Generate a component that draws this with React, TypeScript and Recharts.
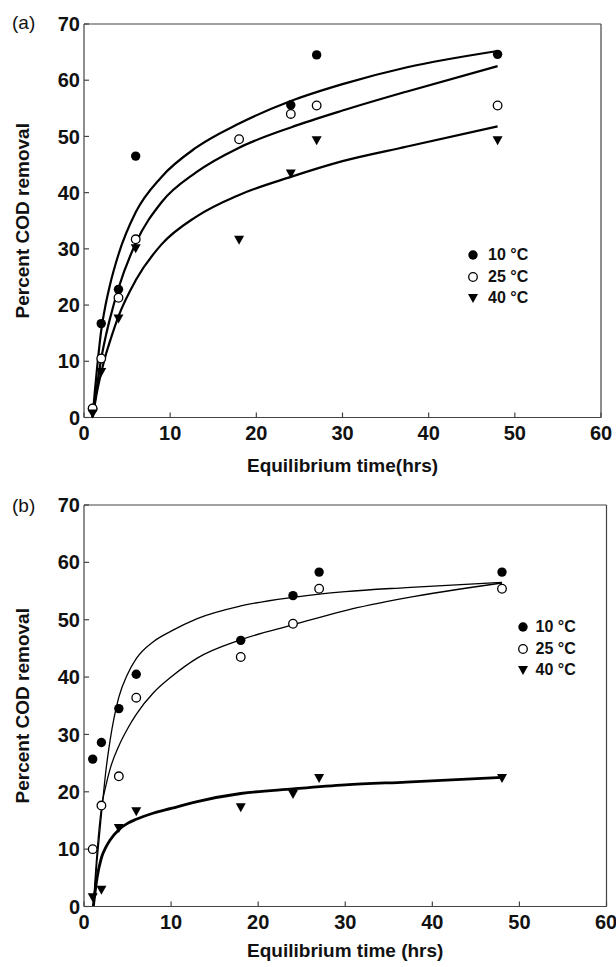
import React from "react";
import { ComposedChart, Line, Scatter, XAxis, YAxis, Legend, Label } from "recharts";

// sampling times (hrs)
const hours = [1, 2, 4, 6, 18, 24, 27, 48];

// (a) measured percent COD removal
const aCold = [1.6, 16.7, 22.8, 46.5, null, 55.6, 64.5, 64.6];
const aMid = [1.6, 10.5, 21.3, 31.7, 49.5, 54.0, 55.5, 55.5];
const aWarm = [0.7, 8.1, 17.6, 30.1, 31.6, 43.4, 49.3, 49.3];

// (a) fitted curves
const aFitHours = [1, 1.25, 1.5, 2, 2.5, 3, 4, 6, 9, 13, 18, 24, 30, 37.5, 48];
const aFitCold = [0, 4.5, 8.5, 15.5, 20, 23.5, 29, 36.5, 42.8, 48, 52.3, 56.3, 59.3, 62.3, 65.2];
const aFitMid = [0, 2.8, 5.5, 10.5, 14.3, 17.5, 23, 31, 38.3, 43.6, 48, 51.6, 54.6, 58, 62.5];
const aFitWarm = [0, 2.3, 4.5, 8, 11, 13.5, 18, 24.4, 30.8, 35.7, 39.6, 42.8, 45.6, 48.2, 51.8];

// (b) measured percent COD removal
const bCold = [25.7, 28.6, 34.5, 40.5, 46.4, 54.2, 58.3, 58.3];
const bMid = [10.0, 17.6, 22.7, 36.4, 43.5, 49.3, 55.4, 55.4];
const bWarm = [1.6, 2.9, 13.7, 16.6, 17.3, 19.6, 22.4, 22.4];

// (b) fitted curves
const bFitHours = [1.07, 1.5, 2, 2.5, 3, 4, 5, 6, 8, 10, 13, 18, 24, 30, 37, 48];
const bFitCold = [0, 8, 16, 23.5, 29, 36.5, 40.5, 43.2, 46.2, 48, 50.2, 52.4, 53.9, 54.9, 55.6, 56.5];
const bFitMid = [0, 9.5, 17.2, 21, 24, 28, 31, 33.5, 37.3, 40, 43.3, 46.5, 49.1, 51.6, 53.8, 56.4];
const bFitWarm = [0, 5, 8.5, 10.3, 11.6, 13.4, 14.5, 15.2, 16.3, 17.1, 18.3, 19.7, 20.5, 21.2, 21.7, 22.5];

const xTicks = [0, 10, 20, 30, 40, 50, 60];
const yTicks = [0, 10, 20, 30, 40, 50, 60, 70];
const seriesNames = ["10 °C", "25 °C", "40 °C"];

const FONT = "'Liberation Sans', Arial, Helvetica, sans-serif";
const AXIS = "#444";

const points = (vals: (number | null)[]) =>
  hours.map((t, i) => ({ t, v: vals[i] })).filter((p) => p.v != null);
const curve = (ts: number[], vals: number[]) => ts.map((t, i) => ({ t, v: vals[i] }));

function Marker({ kind, cx, cy }: any) {
  if (cx == null || cy == null) return null;
  if (kind === "filled") return <circle cx={cx} cy={cy} r={4.7} fill="#000" />;
  if (kind === "open")
    return <circle cx={cx} cy={cy} r={4.3} fill="#fff" stroke="#000" strokeWidth={1.3} />;
  return (
    <polygon
      points={`${cx - 5},${cy - 4} ${cx + 5},${cy - 4} ${cx},${cy + 5}`}
      fill="#000"
    />
  );
}

const kinds = ["filled", "open", "tri"];

function Key({ gap }: { gap: number }) {
  return (
    <div style={{ fontFamily: FONT, fontSize: 16, fontWeight: 700, color: "#111" }}>
      {seriesNames.map((name, i) => (
        <div key={name} style={{ display: "flex", alignItems: "center", height: 21.7 }}>
          <svg width={10} height={10} style={{ overflow: "visible" }}>
            <Marker kind={kinds[i]} cx={5} cy={5} />
          </svg>
          <span style={{ marginLeft: gap, whiteSpace: "nowrap" }}>{name}</span>
        </div>
      ))}
    </div>
  );
}

function Panel(props: any) {
  const {
    tag, tagTop, xTitle, height, margin, legendLeft, legendTop, legendGap,
    tickGap, titleOffset, meas, fits, fitHours, widths,
  } = props;
  const tickStyle = { fill: "#111", fontSize: 20, fontWeight: 700, fontFamily: FONT };
  const titleStyle = { fill: "#111", fontSize: 19, fontWeight: 700, fontFamily: FONT };
  return (
    <div style={{ position: "relative", width: 616, height }}>
      <span
        style={{
          position: "absolute", left: 12, top: tagTop, fontFamily: FONT,
          fontSize: 19, lineHeight: "19px", color: "#111",
        }}
      >
        {tag}
      </span>
      <ComposedChart width={616} height={height} margin={margin}>
        <XAxis
          dataKey="t" type="number" domain={[0, 60]} ticks={xTicks} height={1}
          tickSize={-5} tickMargin={tickGap} stroke={AXIS} strokeWidth={1.2} tick={tickStyle}
        >
          <Label value={xTitle} position="bottom" offset={titleOffset} style={titleStyle} />
        </XAxis>
        <XAxis
          xAxisId="top" orientation="top" dataKey="t" type="number" domain={[0, 60]}
          ticks={xTicks} height={1} tickSize={-5} stroke={AXIS} strokeWidth={1.2}
          tickFormatter={() => ""}
        />
        <YAxis
          dataKey="v" type="number" domain={[0, 70]} ticks={yTicks} width={84}
          tickSize={-5} tickMargin={9} stroke={AXIS} strokeWidth={1.2} tick={tickStyle}
        >
          <Label
            value="Percent COD removal" angle={-90} position="insideLeft" offset={22}
            style={{ ...titleStyle, textAnchor: "middle" }}
          />
        </YAxis>
        <YAxis
          yAxisId="right" orientation="right" type="number" domain={[0, 70]} ticks={yTicks}
          width={1} tickSize={-5} stroke={AXIS} strokeWidth={1.2} tickFormatter={() => ""}
        />
        {fits.map((vals: number[], i: number) => (
          <Line
            key={"fit" + i}
            data={curve(fitHours, vals)}
            dataKey="v"
            type="monotone"
            stroke="#000"
            strokeWidth={widths[i]}
            dot={false}
            activeDot={false}
            isAnimationActive={false}
          />
        ))}
        {meas.map((vals: (number | null)[], i: number) => (
          <Scatter
            key={"pts" + i}
            name={seriesNames[i]}
            data={points(vals)}
            dataKey="v"
            isAnimationActive={false}
            shape={(p: any) => <Marker kind={kinds[i]} cx={p.cx} cy={p.cy} />}
          />
        ))}
        <Legend
          layout="vertical"
          align="center"
          verticalAlign="middle"
          content={() => <Key gap={legendGap} />}
          wrapperStyle={{ left: legendLeft, top: legendTop, width: "auto", height: "auto" }}
        />
      </ComposedChart>
    </div>
  );
}

export default function App() {
  return (
    <div style={{ position: "absolute", left: 0, top: 0, width: 616, height: 967, background: "#fff" }}>
      <Panel
        tag="(a)"
        tagTop={13}
        xTitle="Equilibrium time(hrs)"
        height={480}
        margin={{ top: 23, right: 14, bottom: 61.5, left: 0 }}
        legendLeft={468}
        legendTop={244}
        legendGap={10}
        tickGap={13}
        titleOffset={40}
        meas={[aCold, aMid, aWarm]}
        fits={[aFitCold, aFitMid, aFitWarm]}
        fitHours={aFitHours}
        widths={[2.2, 2.2, 2.2]}
      />
      <div style={{ position: "absolute", left: 0, top: 481 }}>
        <Panel
          tag="(b)"
          tagTop={15}
          xTitle="Equilibrium time (hrs)"
          height={486}
          margin={{ top: 23, right: 8.5, bottom: 59.5, left: 0 }}
          legendLeft={517.5}
          legendTop={135}
          legendGap={8}
          tickGap={13.5}
          titleOffset={36}
          meas={[bCold, bMid, bWarm]}
          fits={[bFitCold, bFitMid, bFitWarm]}
          fitHours={bFitHours}
          widths={[1.3, 1.3, 2.8]}
        />
      </div>
    </div>
  );
}
